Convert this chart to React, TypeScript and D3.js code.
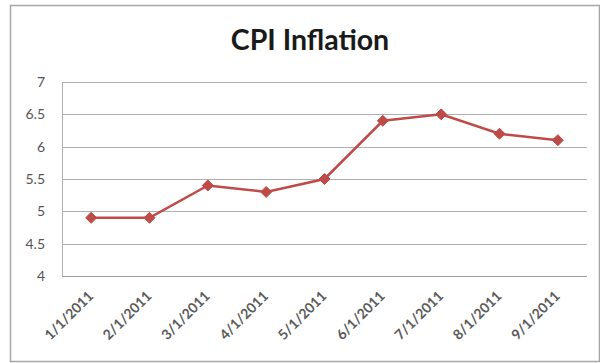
import React from "react";
import * as d3 from "d3";

const months = ["1/1/2011", "2/1/2011", "3/1/2011", "4/1/2011", "5/1/2011", "6/1/2011", "7/1/2011", "8/1/2011", "9/1/2011"];
const cpi = [4.9, 4.9, 5.4, 5.3, 5.5, 6.4, 6.5, 6.2, 6.1];
const yTicks = [4, 4.5, 5, 5.5, 6, 6.5, 7];

const W = 600;
const H = 363;
const plot = { left: 62, right: 587, top: 82, bottom: 276 };
const lineColor = "#be4b48";
const font = "Lato, 'Open Sans', sans-serif";

// square-ish diamond marker, half-diagonal r
const diamondPath = (r: number) => `M0,${-r}L${r},0L0,${r}L${-r},0Z`;

export default function App() {
  const x = d3.scalePoint<string>().domain(months).range([plot.left, plot.right]).padding(0.5);
  const y = d3.scaleLinear().domain([4, 7]).range([plot.bottom, plot.top]);
  const line = d3
    .line<number>()
    .x((_, i) => x(months[i]) as number)
    .y((d) => y(d));

  return (
    <svg
      width={W}
      height={H}
      style={{ position: "absolute", left: 0, top: 0, background: "#fff" }}
    >
      <rect x={10.5} y={5.5} width={589} height={356} fill="#fff" stroke="#a6a6a6" strokeWidth={1.5} />
      <text x={310} y={50} textAnchor="middle" fontFamily={font} fontWeight={700} fontSize={28.5} fill="#1a1a1a">
        CPI Inflation
      </text>
      {yTicks.map((t) => (
        <g key={t}>
          <line
            x1={plot.left}
            x2={plot.right}
            y1={Math.round(y(t)) + 0.5}
            y2={Math.round(y(t)) + 0.5}
            stroke={t === 4 ? "#a0a0a0" : "#b0b0b0"}
            strokeWidth={1}
          />
          <text x={45} y={y(t) + 5} textAnchor="end" fontFamily={font} fontSize={14} fill="#555">
            {t}
          </text>
        </g>
      ))}
      <line x1={plot.left + 0.5} x2={plot.left + 0.5} y1={plot.top} y2={plot.bottom} stroke="#b0b0b0" />
      {months.map((m) => {
        const px = x(m) as number;
        return (
          <text
            key={m}
            transform={`translate(${px + 3},${plot.bottom + 21}) rotate(-45)`}
            textAnchor="end"
            fontFamily={font}
            fontWeight={700}
            fontSize={14}
            fill="#5a5a5a"
          >
            {m}
          </text>
        );
      })}
      <path d={line(cpi) as string} fill="none" stroke={lineColor} strokeWidth={2.5} />
      {cpi.map((v, i) => (
        <path
          key={i}
          d={diamondPath(5.5)}
          transform={`translate(${x(months[i])},${y(v)})`}
          fill={lineColor}
          stroke={lineColor}
          strokeWidth={1}
        />
      ))}
    </svg>
  );
}
